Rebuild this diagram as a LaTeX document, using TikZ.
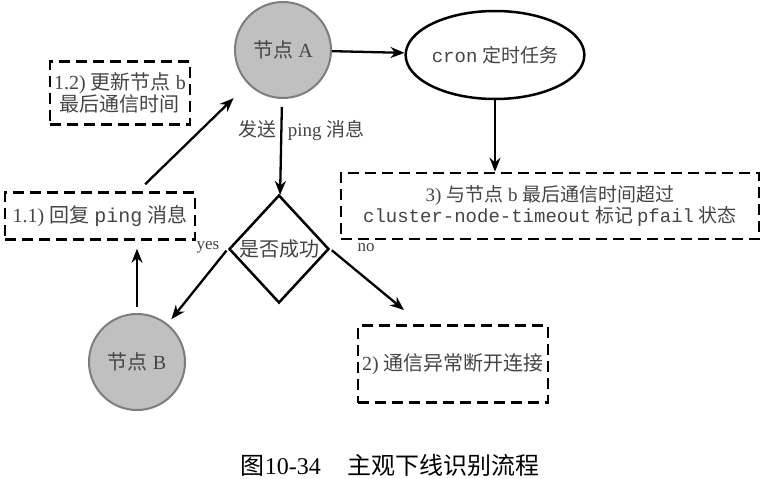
\documentclass[tikz,border=0pt]{standalone}
\usepackage{fontspec}
\setmainfont{Liberation Serif}
\setmonofont{Liberation Mono}
\newfontfamily\cjk{Noto Sans CJK SC}
\usetikzlibrary{arrows.meta,shapes.geometric}
\definecolor{node_fill}{RGB}{192,192,192}
\definecolor{node_rim}{RGB}{125,125,125}
\definecolor{ink}{RGB}{68,68,68}

\begin{document}
\begin{tikzpicture}[x=1pt, y=-1pt, font=\fontsize{20}{21}\selectfont,
          peer/.style={circle, draw=node_rim, fill=node_fill, line width=2pt,
                       minimum size=96pt, inner sep=0pt, text=ink},
          dbox/.style={draw, line width=2.6pt, dash pattern=on 11pt off 6pt,
                       align=center, inner sep=0pt, text=ink},
          arr/.style={-{Stealth[length=14pt,width=11pt]}, line width=2.3pt},
          lbl/.style={text=ink, font=\fontsize{19}{20}\selectfont}]
        \useasboundingbox (0,0) rectangle (769,479);
        % nodes
        \node[peer] (nodeA) at (283,50) {{\cjk 节点} A};
        \node[peer] (nodeB) at (137,362) {{\cjk 节点} B};
        \node[ellipse, draw, line width=2.5pt, minimum width=124pt, minimum height=88pt,
              inner sep=0pt, text=ink, font=\fontsize{19}{20}\selectfont] (cron) at (495,55)
          {\texttt{cron} {\cjk 定时任务}};
        \node[diamond, draw, line width=2.5pt, minimum width=100pt, minimum height=108pt,
              inner sep=0pt, text=ink] (judge) at (279,249) {\cjk 是否成功};
        \node[dbox, minimum width=140pt, minimum height=63pt] (update) at (120,93)
          {1.2) {\cjk 更新节点} b\\{\cjk 最后通信时间}};
        \node[dbox, minimum width=190pt, minimum height=47pt] (reply) at (100,216)
          {1.1) {\cjk 回复} \texttt{ping} {\cjk 消息}};
        \node[dbox, minimum width=418pt, minimum height=66pt,
              font=\fontsize{19}{20}\selectfont] (pfail) at (550,206)
          {3) {\cjk 与节点} b {\cjk 最后通信时间超过}\\
           \texttt{cluster-node-timeout} {\cjk 标记}\,\texttt{pfail} {\cjk 状态}};
        \node[dbox, minimum width=190pt, minimum height=77pt] (cut) at (453,364)
          {2) {\cjk 通信异常断开连接}};
        \node[lbl, font=\fontsize{17}{18}\selectfont] (yes) at (208,247) {yes};
        \node[lbl, font=\fontsize{17}{18}\selectfont] (no) at (366,248) {no};
        \coordinate (noend) at (404,310);
        % connectors
        \draw[arr] (nodeA) -- (cron);
        \draw[arr] (cron.south) -- (cron.south |- pfail.north);
        \draw[arr, shorten <=8pt] (nodeA) -- node[lbl, pos=0.33, xshift=20pt]
          {{\cjk 发送}\hspace{0.6em}ping {\cjk 消息}} (judge);
        \draw[arr, shorten <=2pt, shorten >=6pt] (judge.west) -- (nodeB);
        \draw[arr, shorten <=2pt] (judge.east) -- (noend);
        \draw[arr, shorten <=6pt, shorten >=8pt] (nodeB.north) -- (nodeB.north |- reply.south);
        \draw[arr, shorten <=10pt, shorten >=20pt] ([xshift=38pt]reply.north) -- (nodeA);
        % caption
        \node[font=\fontsize{24}{26}\selectfont] (caption) at (390,465)
          {{\cjk 图}10-34\hspace{1.1em}{\cjk 主观下线识别流程}};
\end{tikzpicture}
\end{document}
